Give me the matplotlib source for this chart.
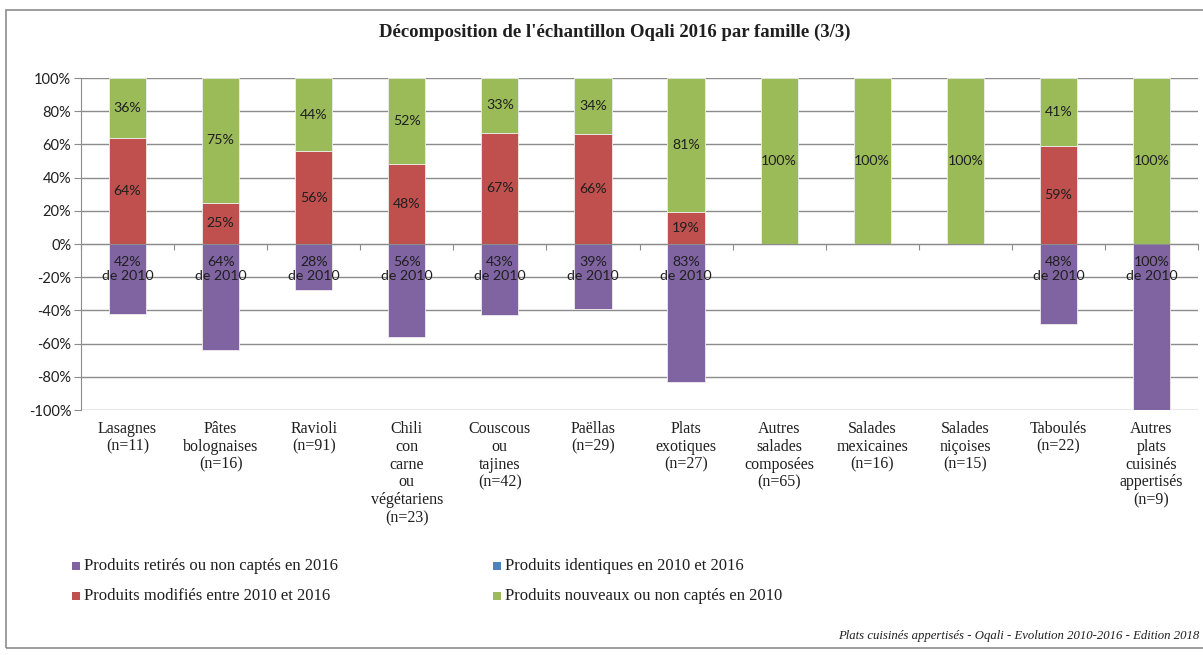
import matplotlib
matplotlib.use("Agg")
import matplotlib.pyplot as plt
from matplotlib.patches import Rectangle
import matplotlib.transforms as mtransforms
import numpy as np

# ---- data ----
categories = [
    "Lasagnes\n(n=11)", "Pâtes\nbolognaises\n(n=16)", "Ravioli\n(n=91)",
    "Chili\ncon\ncarne\nou\nvégétariens\n(n=23)", "Couscous\nou\ntajines\n(n=42)",
    "Paëllas\n(n=29)", "Plats\nexotiques\n(n=27)", "Autres\nsalades\ncomposées\n(n=65)",
    "Salades\nmexicaines\n(n=16)", "Salades\nniçoises\n(n=15)", "Taboulés\n(n=22)",
    "Autres\nplats\ncuisinés\nappertisés\n(n=9)",
]
retires = [42, 64, 28, 56, 43, 39, 83, 0, 0, 0, 48, 100]
modifies = [64, 25, 56, 48, 67, 66, 19, 0, 0, 0, 59, 0]
identiques = [0, 0, 0, 0, 0, 0, 0, 0, 0, 0, 0, 0]
nouveaux = [36, 75, 44, 52, 33, 34, 81, 100, 100, 100, 41, 100]
series_names = [
    "Produits retirés ou non captés en 2016",
    "Produits modifiés entre 2010 et 2016",
    "Produits identiques en 2010 et 2016",
    "Produits nouveaux ou non captés en 2010",
]
title = "Décomposition de l'échantillon Oqali 2016 par famille (3/3)"
footer = "Plats cuisinés appertisés - Oqali - Evolution 2010-2016 - Edition 2018"
yticks = [-100, -80, -60, -40, -20, 0, 20, 40, 60, 80, 100]

C_PURPLE = "#8064A2"
C_RED = "#C0504D"
C_BLUE = "#4F81BD"
C_GREEN = "#9BBB59"

SERIF = ["Liberation Serif", "DejaVu Serif"]
SANS = ["Lato", "DejaVu Sans"]

W, H = 1203, 655
fig = plt.figure(figsize=(W / 100, H / 100), dpi=100)

def fx(px):
    return px / W

def fy(py):
    return 1 - py / H

# outer border
fig.patches.append(Rectangle((fx(6), fy(648)), fx(1230) - fx(6), fy(10) - fy(648),
                             transform=fig.transFigure, fill=False,
                             edgecolor="#8C8C8C", linewidth=1.2))

ax = fig.add_axes([fx(81), fy(410), fx(1198) - fx(81), fy(78) - fy(410)])

x = np.arange(len(categories))
r = np.array(retires)
m = np.array(modifies)
i_ = np.array(identiques)
n = np.array(nouveaux)
bw = 0.4
ec = "#EDEDED"
ax.bar(x, -r, width=bw, color=C_PURPLE, edgecolor=ec, linewidth=0.6, zorder=3)
ax.bar(x, m, width=bw, color=C_RED, edgecolor=ec, linewidth=0.6, zorder=3)
ax.bar(x, i_, bottom=m, width=bw, color=C_BLUE, edgecolor=ec, linewidth=0.6, zorder=3)
ax.bar(x, n, bottom=m + i_, width=bw, color=C_GREEN, edgecolor=ec, linewidth=0.6, zorder=3)

lab_kw = dict(ha="center", va="center", fontsize=10.2, color="#1F1F1F",
              family=SANS, zorder=5)
for k in range(len(categories)):
    if m[k] > 0:
        ax.text(x[k], m[k] / 2, f"{m[k]}%", **lab_kw)
    if n[k] > 0:
        ax.text(x[k], m[k] + i_[k] + n[k] / 2, f"{n[k]}%", **lab_kw)
    if r[k] > 0:
        ax.text(x[k], -15, f"{r[k]}%\nde 2010", linespacing=1.2, **lab_kw)

ax.set_xlim(-0.5, len(categories) - 0.5)
ax.set_ylim(-100, 100)
ax.set_yticks(yticks)
ax.set_yticklabels([f"{v}%" for v in yticks], family=SANS, fontsize=10.5, color="#1F1F1F")
ax.yaxis.grid(True, color="#8C8C8C", linewidth=1.0, zorder=0)
ax.tick_params(axis="y", length=5, color="#8C8C8C", pad=2)

ax.set_xticks(np.arange(-0.5, len(categories), 1.0))
ax.set_xticklabels([])
ax.tick_params(axis="x", length=4, color="#8C8C8C", direction="out")
ax.spines["bottom"].set_position(("data", 0))
ax.spines["bottom"].set_color("#8C8C8C")
ax.spines["bottom"].set_zorder(4)
ax.spines["left"].set_color("#8C8C8C")
ax.spines["top"].set_visible(False)
ax.spines["right"].set_visible(False)
ax.set_axisbelow(True)

trans = mtransforms.blended_transform_factory(ax.transData, fig.transFigure)
for k, c in enumerate(categories):
    ax.text(x[k], fy(421), c, transform=trans, ha="center", va="top",
            family=SERIF, fontsize=11.5, color="#1F1F1F", linespacing=1.15,
            clip_on=False)

# title
fig.text(fx(615), fy(32), title, ha="center", va="center", family=SERIF,
         fontsize=13.5, fontweight="bold", color="#1F1F1F")

# legend (manual)
leg = [(72, 566, C_PURPLE, series_names[0]), (72, 596, C_RED, series_names[1]),
       (493, 566, C_BLUE, series_names[2]), (493, 596, C_GREEN, series_names[3])]
for px, py, col, name in leg:
    fig.patches.append(Rectangle((fx(px), fy(py + 4)), fx(8), 8 / H,
                                 transform=fig.transFigure, facecolor=col,
                                 edgecolor="none"))
    fig.text(fx(px + 12), fy(py), name, ha="left", va="center", family=SERIF,
             fontsize=12, color="#1F1F1F")

fig.text(fx(1199), fy(636), footer, ha="right", va="center", family=SERIF,
         fontsize=9.2, style="italic", color="#1F1F1F")

fig.savefig("out.png", dpi=100)
